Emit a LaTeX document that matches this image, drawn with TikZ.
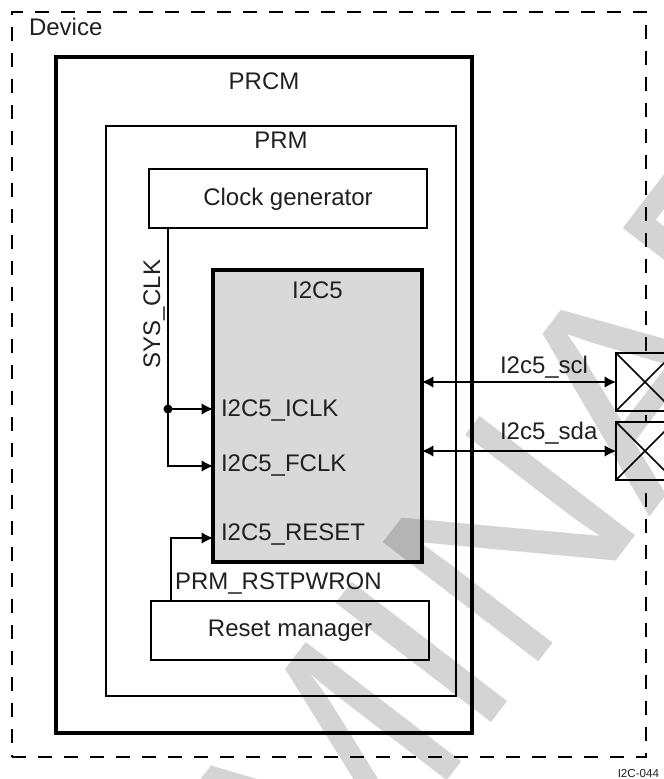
\documentclass[tikz,border=0pt]{standalone}
\usepackage{fontspec}
\setmainfont{Liberation Sans}
\usetikzlibrary{arrows.meta}
\definecolor{inkc}{RGB}{35,31,32}
\definecolor{fillc}{RGB}{217,217,217}
\tikzset{
  lbl/.style={font=\fontsize{18pt}{21pt}\selectfont, text=inkc, inner sep=0pt, outer sep=0pt},
  blk/.style={draw=black, inner sep=0pt, outer sep=0pt},
  wire/.style={draw=black, line width=0.9pt},
  tipend/.style={-{Latex[length=8.5pt,width=8.5pt]}},
  tipboth/.style={{Latex[length=8.5pt,width=8.5pt]}-{Latex[length=8.5pt,width=8.5pt]}},
  wm/.style={font=\fontsize{213.75pt}{220pt}\selectfont, text=black, text opacity=0.17, inner sep=0pt, outer sep=0pt, rotate=52.5},
}
\begin{document}
\begin{tikzpicture}[x=0.75pt,y=-0.75pt]
\useasboundingbox (0,0) rectangle (664,779);
\clip (0,0) rectangle (664,779);

% Device (dashed)
\node[blk, line width=1.9pt, dash pattern=on 10.5pt off 9pt, minimum width=475.5pt, minimum height=558.75pt] (device) at (329,384.5) {};
\node[lbl, anchor=base west] (devl) at (29,35) {Device};

% PRCM
\node[blk, line width=2.6pt, minimum width=312pt, minimum height=507pt] (prcm) at (264,395) {};
\node[lbl, anchor=base] (prcml) at (264,89) {PRCM};

% PRM
\node[blk, line width=1.6pt, minimum width=262.5pt, minimum height=427.5pt] (prm) at (281,411) {};
\node[lbl, anchor=base] (prml) at (281,148.5) {PRM};

% Clock generator
\node[blk, line width=1.6pt, minimum width=208.5pt, minimum height=44.25pt] (clk) at (288,198.5) {};
\node[lbl, anchor=base] (clkl) at (288,205) {Clock generator};

% I2C5
\node[blk, line width=2.6pt, fill=fillc, minimum width=156.75pt, minimum height=219pt] (i2c5) at (317.5,416) {};
\node[lbl, anchor=base] (i2c5l) at (317.5,298) {I2C5};
\node[lbl, anchor=base west] (iclk) at (221,416) {I2C5\_ICLK};
\node[lbl, anchor=base west] (fclk) at (221,471) {I2C5\_FCLK};
\node[lbl, anchor=base west] (ireset) at (221,540) {I2C5\_RESET};

% Reset manager
\node[blk, line width=1.6pt, minimum width=208.5pt, minimum height=44.25pt] (rst) at (290,630.5) {};
\node[lbl, anchor=base] (rstl) at (290,636.5) {Reset manager};

% Pads
\node[blk, line width=1.9pt, fill=white, minimum size=43.5pt] (pad1) at (645,382) {};
\node[blk, line width=1.9pt, fill=white, minimum size=43.5pt] (pad2) at (645,451) {};
\draw[line width=1.1pt] (pad1.north west) -- (pad1.south east) (pad1.south west) -- (pad1.north east);
\draw[line width=1.1pt] (pad2.north west) -- (pad2.south east) (pad2.south west) -- (pad2.north east);

% Clock connections
\coordinate (dot) at (168,409);
\coordinate (fc) at (168,466);
\coordinate (rs) at (171,538);
\draw[wire, tipend] (clk.south -| dot) |- (i2c5.west |- fc);
\draw[wire, tipend] (dot) -- (i2c5.west |- dot);
\fill[black] (dot) circle[radius=3.4pt];
\node[lbl, rotate=90, anchor=base] (sysl) at (160,314) {SYS\_CLK};

% Reset connection
\draw[wire, tipend] (rst.north -| rs) |- (i2c5.west |- rs);
\node[lbl, anchor=base west] (rstpw) at (175,589) {PRM\_RSTPWRON};

% I2C pins
\draw[wire, tipboth] (i2c5.east |- pad1) -- (pad1.west);
\draw[wire, tipboth] (i2c5.east |- pad2) -- (pad2.west);
\node[lbl, anchor=base west] (scl) at (500,373) {I2c5\_scl};
\node[lbl, anchor=base west] (sda) at (500,439) {I2c5\_sda};

% figure id
\node[font=\fontsize{8.7pt}{10pt}\selectfont, text=inkc, inner sep=0pt, anchor=base west] (figid) at (617.5,777) {I2C-044};

% watermark
\node[wm, anchor=base east] (wmA) at (524,680.5) {PRELIMI};
\node[wm, anchor=base west] (wmB) at (524,680.5) {NARY};
\end{tikzpicture}
\end{document}
